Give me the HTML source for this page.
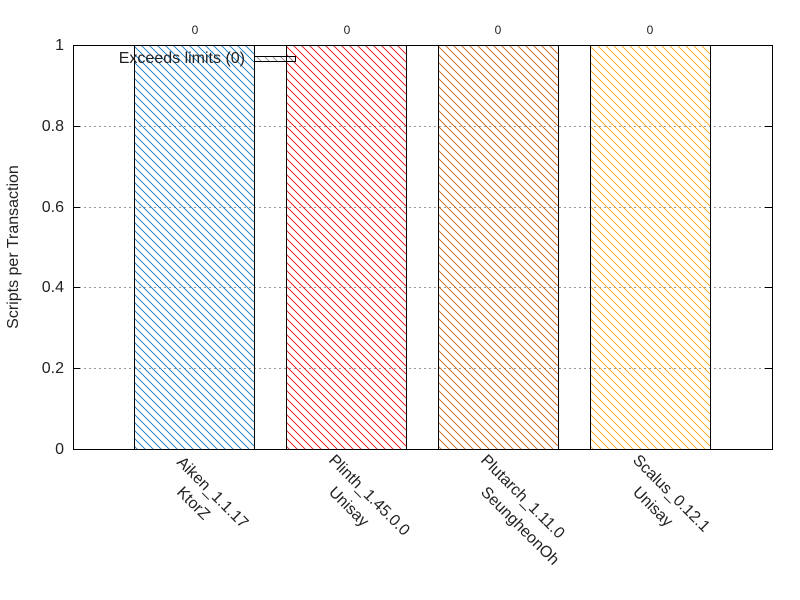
<!DOCTYPE html>
<html><head><meta charset="utf-8"><style>body{margin:0;background:#fff}svg{display:block}text{font-family:"Liberation Sans",sans-serif;fill:#222}</style></head><body>
<svg width="800" height="600" xmlns="http://www.w3.org/2000/svg">
<defs>
<pattern id="pb" width="8" height="8" patternUnits="userSpaceOnUse"><path d="M-1,-1 L9,9 M-1,7 L1,9 M7,-1 L9,1" stroke="#0072bd" stroke-width="0.8"/></pattern>
<pattern id="pr" width="8" height="8" patternUnits="userSpaceOnUse"><path d="M-1,-1 L9,9 M-1,7 L1,9 M7,-1 L9,1" stroke="#e8000b" stroke-width="0.8"/></pattern>
<pattern id="po" width="8" height="8" patternUnits="userSpaceOnUse"><path d="M-1,-1 L9,9 M-1,7 L1,9 M7,-1 L9,1" stroke="#c85a00" stroke-width="0.8"/></pattern>
<pattern id="py" width="8" height="8" patternUnits="userSpaceOnUse"><path d="M-1,-1 L9,9 M-1,7 L1,9 M7,-1 L9,1" stroke="#ffa000" stroke-width="0.8"/></pattern>
<pattern id="pg" width="8" height="8" patternUnits="userSpaceOnUse"><path d="M-1,-1 L9,9 M-1,7 L1,9 M7,-1 L9,1" stroke="#888" stroke-width="0.8"/></pattern>
</defs>
<g stroke="#999" stroke-dasharray="2,3" stroke-width="1">
<line x1="74" y1="126.5" x2="772" y2="126.5"/><line x1="74" y1="207.5" x2="772" y2="207.5"/><line x1="74" y1="287.5" x2="772" y2="287.5"/><line x1="74" y1="368.5" x2="772" y2="368.5"/>
</g>
<g stroke="#000" stroke-width="1">
<rect x="134.5" y="45.5" width="120" height="404" fill="url(#pb)"/>
<rect x="286.5" y="45.5" width="120" height="404" fill="url(#pr)"/>
<rect x="438.5" y="45.5" width="120" height="404" fill="url(#po)"/>
<rect x="590.5" y="45.5" width="120" height="404" fill="url(#py)"/>
<rect x="73.5" y="45.5" width="699" height="404" fill="none"/>
<line x1="73" y1="126.5" x2="80" y2="126.5"/><line x1="73" y1="207.5" x2="80" y2="207.5"/><line x1="73" y1="287.5" x2="80" y2="287.5"/><line x1="73" y1="368.5" x2="80" y2="368.5"/>
<line x1="765" y1="126.5" x2="772" y2="126.5"/><line x1="765" y1="207.5" x2="772" y2="207.5"/><line x1="765" y1="287.5" x2="772" y2="287.5"/><line x1="765" y1="368.5" x2="772" y2="368.5"/>
<rect x="254.5" y="56.5" width="41" height="5" fill="url(#pg)"/>
</g>
<g font-size="16" text-anchor="end">
<text x="64" y="50">1</text><text x="64" y="131">0.8</text><text x="64" y="212">0.6</text><text x="64" y="292">0.4</text><text x="64" y="373">0.2</text><text x="64" y="454">0</text>
<text x="245" y="63">Exceeds limits (0)</text>
</g>
<g font-size="12" text-anchor="middle">
<text x="195" y="34">0</text><text x="347" y="34">0</text><text x="498" y="34">0</text><text x="650" y="34">0</text>
</g>
<text font-size="16" transform="translate(18,247) rotate(-90)" text-anchor="middle">Scripts per Transaction</text>
<g font-size="16">
<text transform="translate(176,463) rotate(45)">Aiken_1.1.17</text>
<text transform="translate(176,493) rotate(45)">KtorZ</text>
<text transform="translate(328,461) rotate(45)">Plinth_1.45.0.0</text>
<text transform="translate(328,493) rotate(45)">Unisay</text>
<text transform="translate(480,461) rotate(45)">Plutarch_1.11.0</text>
<text transform="translate(480,493) rotate(45)">SeungheonOh</text>
<text transform="translate(632,461) rotate(45)">Scalus_0.12.1</text>
<text transform="translate(632,493) rotate(45)">Unisay</text>
</g>
</svg>
</body></html>
